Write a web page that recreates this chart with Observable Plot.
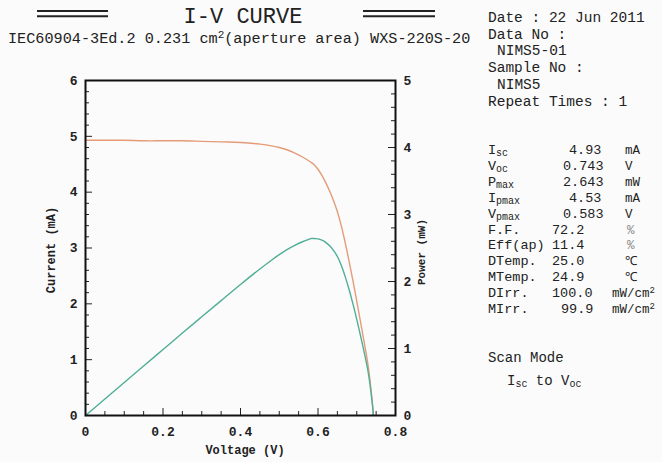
<!DOCTYPE html>
<html>
<head>
<meta charset="utf-8">
<script src="https://cdn.jsdelivr.net/npm/d3@7"></script>
<script src="https://cdn.jsdelivr.net/npm/@observablehq/plot@0.6"></script>
<style>
  html, body { margin: 0; padding: 0; background: #fbfbfb; }
  #wrap { position: relative; width: 662px; height: 462px; overflow: hidden; }
  #wrap > svg { position: absolute; left: 0; top: 0; }
</style>
</head>
<body>
<div id="wrap"></div>
<script>
// ---- data ----
const voltage = [0, 0.05, 0.1, 0.15, 0.2, 0.25, 0.3, 0.35, 0.4, 0.45, 0.48, 0.5, 0.52, 0.54, 0.56, 0.58, 0.583, 0.59, 0.6, 0.61, 0.62, 0.63, 0.64, 0.65, 0.66, 0.67, 0.68, 0.69, 0.70, 0.71, 0.72, 0.73, 0.74, 0.743];
const current = [4.93, 4.93, 4.93, 4.92, 4.92, 4.92, 4.91, 4.90, 4.89, 4.86, 4.83, 4.80, 4.76, 4.70, 4.63, 4.545, 4.53, 4.49, 4.41, 4.30, 4.17, 4.02, 3.85, 3.65, 3.40, 3.10, 2.77, 2.42, 2.05, 1.67, 1.28, 0.86, 0.25, 0];
const power   = [0, 0.247, 0.493, 0.738, 0.984, 1.230, 1.473, 1.715, 1.956, 2.187, 2.318, 2.400, 2.475, 2.538, 2.593, 2.636, 2.643, 2.641, 2.636, 2.617, 2.585, 2.533, 2.464, 2.373, 2.244, 2.077, 1.884, 1.670, 1.435, 1.186, 0.922, 0.628, 0.185, 0];

const xTicks = [0, 0.2, 0.4, 0.6, 0.8];
const xMinor = [0.05,0.1,0.15,0.25,0.3,0.35,0.45,0.5,0.55,0.65,0.7,0.75];
const yTicks = [0, 1, 2, 3, 4, 5, 6];
const yMinor = d3.range(0.2, 6, 0.2).filter(v => Math.abs(v - Math.round(v)) > 1e-6);
const pTicks = [0, 1, 2, 3, 4, 5];
const pMinor = d3.range(0.2, 5, 0.2).filter(v => Math.abs(v - Math.round(v)) > 1e-6);

const titleText = "I-V CURVE";
const subtitleParts = ["IEC60904-3Ed.2 0.231 cm", "2", "(aperture area) WXS-220S-20"];
const infoLines = [["Date : 22 Jun 2011", 0], ["Data No :", 0], ["NIMS5-01", 1], ["Sample No :", 0], ["NIMS5", 1], ["Repeat Times : 1", 0]];
const paramNames = [["I","sc"],["V","oc"],["P","max"],["I","pmax"],["V","pmax"],["F.F.",""],["Eff(ap)",""],["DTemp.",""],["MTemp.",""],["DIrr.",""],["MIrr.",""]];
const paramValues = ["4.93","0.743","2.643","4.53","0.583","72.2","11.4","25.0","24.9","100.0","99.9"];
const paramUnits = ["mA","V","mW","mA","V","%","%","\u2103","\u2103","mW/cm2","mW/cm2"];

const orange = "#e59b78";
const teal = "#4fae97";
const pScale = 6 / 5; // power axis 0–5 mapped onto current axis 0–6

const data = voltage.map((v, k) => ({v, i: current[k], p: power[k]}));

const W = 662, H = 462, mL = 85, mR = 267, mT = 80, mB = 47;
const innerW = W - mL - mR, innerH = H - mT - mB;
const font = "'Liberation Mono', 'DejaVu Sans Mono', monospace";

const chart = Plot.plot({
  width: W, height: H,
  marginLeft: mL, marginRight: mR, marginTop: mT, marginBottom: mB,
  x: {domain: [0, 0.8]},
  y: {domain: [0, 6]},
  style: {background: "transparent", fontFamily: font, color: "#222"},
  marks: [
    Plot.line(data, {x: "v", y: "i", stroke: orange, strokeWidth: 1.4, curve: "catmull-rom"}),
    Plot.line(data, {x: "v", y: d => d.p * pScale, stroke: teal, strokeWidth: 1.4, curve: "catmull-rom"}),
    // inward ticks
    Plot.tickY(yMinor, {y: d => d, insetRight: innerW - 4, stroke: "#222"}),
    Plot.tickY(yTicks, {y: d => d, insetRight: innerW - 7, stroke: "#222"}),
    Plot.tickY(pMinor, {y: d => d * pScale, insetLeft: innerW - 4, stroke: "#222"}),
    Plot.tickY(pTicks, {y: d => d * pScale, insetLeft: innerW - 7, stroke: "#222"}),
    Plot.tickX(xMinor, {x: d => d, insetTop: innerH - 4, stroke: "#222"}),
    Plot.tickX(xTicks, {x: d => d, insetTop: innerH - 7, stroke: "#222"}),
    Plot.frame({stroke: "#111", strokeWidth: 2}),
    Plot.axisY(yTicks, {anchor: "left", tickSize: 0, tickPadding: 8, label: null, fontSize: 13, fontWeight: "bold", tickFormat: d => String(d)}),
    Plot.axisY(pTicks.map(p => p * pScale), {anchor: "right", tickSize: 0, tickPadding: 8, label: null, fontSize: 13, fontWeight: "bold", tickFormat: d => String(Math.round(d / pScale))}),
    Plot.axisX(xTicks, {anchor: "bottom", tickSize: 0, tickPadding: 11, label: null, fontSize: 13, fontWeight: "bold", tickFormat: d => d === 0 ? "0" : d.toFixed(1)})
  ]
});

const wrap = document.getElementById("wrap");
wrap.appendChild(chart);

// ---- text overlay ----
const svg = d3.select(wrap).append("svg")
  .attr("width", W).attr("height", H)
  .style("font-family", font).style("pointer-events", "none");

// title with double rules
const rule = (x1, x2) => {
  [11, 16.3].forEach(y => svg.append("line").attr("x1", x1).attr("x2", x2).attr("y1", y).attr("y2", y)
    .attr("stroke", "#222").attr("stroke-width", 2));
};
rule(37, 108);
rule(363, 435);
svg.append("text").attr("x", 243).attr("y", 23).attr("text-anchor", "middle")
  .attr("font-size", 22).attr("fill", "#222").text(titleText);

const sub = svg.append("text").attr("x", 8).attr("y", 43).attr("font-size", 15.2).attr("fill", "#222");
sub.append("tspan").text(subtitleParts[0]);
sub.append("tspan").attr("font-size", 11).attr("dy", -5).text(subtitleParts[1]);
sub.append("tspan").attr("dy", 5).text(subtitleParts[2]);

// axis titles
svg.append("text").attr("transform", "translate(55,250) rotate(-90)").attr("text-anchor", "middle")
  .attr("font-size", 12).attr("font-weight", "bold").attr("fill", "#222").text("Current (mA)");
svg.append("text").attr("transform", "translate(425,252) rotate(-90)").attr("text-anchor", "middle")
  .attr("font-size", 11).attr("font-weight", "bold").attr("fill", "#222").text("Power (mW)");
svg.append("text").attr("x", 245).attr("y", 454).attr("text-anchor", "middle")
  .attr("font-size", 12).attr("font-weight", "bold").attr("fill", "#222").text("Voltage (V)");

// info block
infoLines.forEach(([t, indent], k) => {
  svg.append("text").attr("x", 488 + indent * 9).attr("y", 22 + k * 16.7)
    .attr("font-size", 14.5).attr("fill", "#222").text(t);
});

// parameter table
const valueX = [569, 563, 563, 569, 563, 552, 552, 552, 552, 552, 561];
const unitX = [625, 625, 625, 625, 625, 627, 627, 625, 625, 612, 612];
paramNames.forEach(([main, subscript], k) => {
  const y = 154 + k * 15.9;
  const t = svg.append("text").attr("x", 488).attr("y", y).attr("font-size", 13.5).attr("fill", "#222");
  t.append("tspan").text(main);
  if (subscript) t.append("tspan").attr("font-size", 10).attr("dy", 2).text(subscript);
  svg.append("text").attr("x", valueX[k]).attr("y", y).attr("font-size", 13.5).attr("fill", "#222").text(paramValues[k]);
  const u = paramUnits[k];
  const ut = svg.append("text").attr("x", unitX[k]).attr("y", y).attr("font-size", 12.5)
    .attr("fill", u === "%" ? "#888" : "#222");
  if (u.endsWith("2")) {
    ut.append("tspan").text(u.slice(0, -1));
    ut.append("tspan").attr("font-size", 9).attr("dy", -4).text("2");
  } else ut.text(u);
});

// scan mode
svg.append("text").attr("x", 488).attr("y", 362).attr("font-size", 14).attr("fill", "#222").text("Scan Mode");
const sm = svg.append("text").attr("x", 507).attr("y", 385).attr("font-size", 14).attr("fill", "#222");
sm.append("tspan").text("I");
sm.append("tspan").attr("font-size", 10).attr("dy", 2).text("sc");
sm.append("tspan").attr("dy", -2).text(" to V");
sm.append("tspan").attr("font-size", 10).attr("dy", 2).text("oc");
</script>
</body>
</html>
